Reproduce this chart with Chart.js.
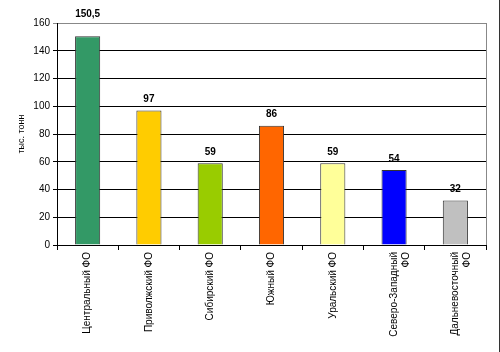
<!DOCTYPE html>
<html>
<head>
<meta charset="utf-8">
<script src="https://cdn.jsdelivr.net/npm/chart.js@4/dist/chart.umd.min.js"></script>
<style>
    body { margin: 0; background: #fff; }
    #wrap { position: relative; width: 500px; height: 352px; box-sizing: border-box; border-right: 1px solid #333; }
</style>
</head>
<body>
<div id="wrap"><canvas id="chart" width="500" height="352"></canvas></div>
<script>
// Federal districts and values (thousand tonnes)
const districts = [
    'Центральный ФО',
    'Приволжский ФО',
    'Сибирский ФО',
    'Южный ФО',
    'Уральский ФО',
    ['Северо-Западный', 'ФО'],
    ['Дальневосточный', 'ФО']
];
const tonnes = [150.5, 97, 59, 86, 59, 54, 32];
const barColors = ['#339966', '#FFCC00', '#99CC00', '#FF6600', '#FFFF99', '#0000FF', '#C0C0C0'];
const yMin = 0, yMax = 160, yStep = 20;
const yTitle = 'тыс. тонн';

const FONT = 'Arial, "Liberation Sans", sans-serif';

// Value labels above the bars + grey right border of plot area
const valueLabels = {
    id: 'valueLabels',
    afterDatasetsDraw(chart) {
        const ctx = chart.ctx;
        const area = chart.chartArea;
        ctx.save();
        ctx.strokeStyle = '#888';
        ctx.lineWidth = 1;
        ctx.beginPath();
        ctx.moveTo(area.right + 0.5, area.top);
        ctx.lineTo(area.right + 0.5, area.bottom);
        ctx.stroke();

        ctx.font = 'bold 10px ' + FONT;
        ctx.fillStyle = '#000';
        ctx.textAlign = 'center';
        ctx.textBaseline = 'middle';
        chart.getDatasetMeta(0).data.forEach((bar, i) => {
            // keep labels of tall bars out of the plot area, like Excel does
            let y = bar.y - 11;
            if (y < area.top + 6) y = area.top - 9;
            ctx.fillText(String(tonnes[i]).replace('.', ','), bar.x, y);
        });
        ctx.restore();
    }
};

new Chart(document.getElementById('chart').getContext('2d'), {
    type: 'bar',
    data: {
        labels: districts,
        datasets: [{
            data: tonnes,
            backgroundColor: barColors,
            borderColor: '#333',
            borderWidth: 1,
            barPercentage: 0.41,
            categoryPercentage: 1
        }]
    },
    options: {
        responsive: false,
        animation: false,
        layout: { padding: { top: 23, right: 14, left: 0, bottom: 0 } },
        plugins: {
            legend: { display: false },
            tooltip: { enabled: false }
        },
        scales: {
            x: {
                grid: { drawOnChartArea: false, tickLength: 5, color: '#000' },
                border: { color: '#000' },
                ticks: {
                    minRotation: 90, maxRotation: 90, autoSkip: false,
                    color: '#000', padding: 2,
                    font: { family: FONT, size: 10 }
                },
                afterFit(scale) { scale.height = 107; }
            },
            y: {
                min: yMin, max: yMax,
                grid: {
                    tickLength: 4,
                    color: ctx => ctx.tick && ctx.tick.value === yMax ? '#888' : '#000'
                },
                border: { color: '#000' },
                ticks: {
                    stepSize: yStep, color: '#000', padding: 3,
                    font: { family: FONT, size: 10 }
                },
                title: {
                    display: true, text: yTitle, color: '#000',
                    font: { family: FONT, size: 9 },
                    padding: { top: 16, bottom: 0 }
                },
                afterFit(scale) { scale.width = 57; }
            }
        }
    },
    plugins: [valueLabels]
});
</script>
</body>
</html>
